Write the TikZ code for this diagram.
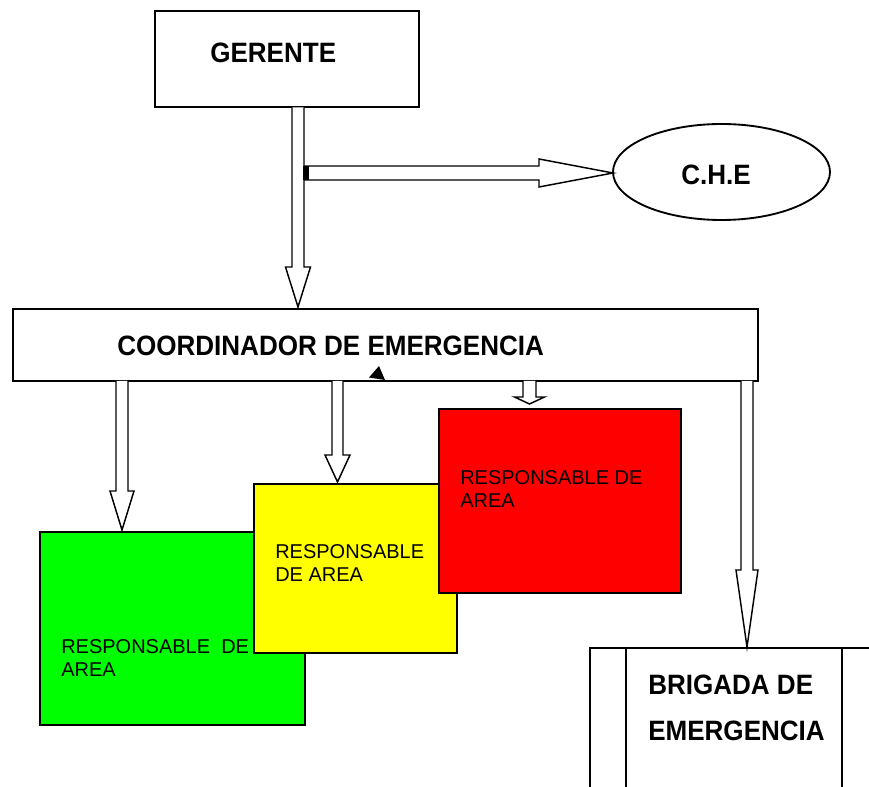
\documentclass[tikz,border=0pt]{standalone}
\usepackage{fontspec}
\setmainfont{Liberation Sans}
\newfontfamily\headfont[FakeStretch=0.93]{Liberation Sans Bold}
\usetikzlibrary{shapes.geometric}
\newcommand\vblock[6]{%
  \draw[blk] ({#1-#5},#2) -- ({#1-#5},#3) -- ({#1-#6},#3) -- (#1,#4) -- ({#1+#6},#3) -- ({#1+#5},#3) -- ({#1+#5},#2);}
\begin{document}
\begin{tikzpicture}[x=0.75pt,y=-0.75pt,
  box/.style={draw, line width=1.4pt, inner sep=0pt, outer sep=0pt, rectangle},
  blk/.style={draw, line width=1.1pt, fill=white, line join=miter},
  head/.style={font=\headfont\fontsize{21}{25}\selectfont, anchor=base west, inner sep=0pt},
  body/.style={font=\fontsize{15}{17.5}\selectfont, anchor=base west, inner sep=0pt, align=left}]
\useasboundingbox (0,0) rectangle (869,787);
\clip (0,0) rectangle (869,787);
\fill[white] (0,0) rectangle (869,787);
% boxes
\node[box, minimum width=198pt, minimum height=72pt] (ger) at (287,59) {};
\node[box, ellipse, minimum width=162.75pt, minimum height=72pt] (che) at (721.5,172) {};
\node[box, minimum width=558.75pt, minimum height=54pt] (coord) at (385.5,345) {};
\node[box, fill={rgb,255:red,0;green,255;blue,0}, minimum width=198.75pt, minimum height=144.75pt] (green) at (172.5,628.5) {};
\node[box, fill={rgb,255:red,255;green,255;blue,0}, minimum width=152.25pt, minimum height=126.75pt] (yellow) at (355.5,568.5) {};
\node[box, fill={rgb,255:red,255;green,0;blue,0}, minimum width=181.5pt, minimum height=138pt] (red) at (560,501) {};
\draw[line width=1.4pt, fill=white] (590,900) -- (590,648) -- (890,648) -- (890,900);
\draw[line width=1.4pt] (626,648) -- (626,900) (842,648) -- (842,900);
\coordinate (brig) at (747,648);
% arrows
\vblock{298}{107.5}{267}{307}{6}{12.5}
\draw[blk] (304,166) -- (539,166) -- (539,159) -- (613,173) -- (539,187) -- (539,180) -- (304,180);
\fill[black] (303,166) rectangle (309,180);
\vblock{122}{381}{491}{530}{6}{12}
\vblock{337.5}{381}{455}{482}{5.5}{12.5}
\vblock{529.5}{381}{397}{404}{6.5}{15}
\vblock{747}{381}{570}{647}{6}{11}
\fill[black] (369,377.5) -- (379,366) -- (385,380) -- cycle;
% texts
\node[head] (tger) at (210,63) {GERENTE};
\node[head] (tche) at (681,185) {C.H.E};
\node[head] (tcoord) at (117,356) {COORDINADOR DE EMERGENCIA};
\node[head] (tbrig1) at (648,695) {BRIGADA DE};
\node[head] (tbrig2) at (648,741) {EMERGENCIA};
\node[body] (tgreen) at (61,677) {RESPONSABLE\ \ DE\\AREA};
\node[body] (tyellow) at (275,582) {RESPONSABLE\\DE AREA};
\node[body] (tred) at (460,508) {RESPONSABLE DE\\AREA};
\end{tikzpicture}
\end{document}
